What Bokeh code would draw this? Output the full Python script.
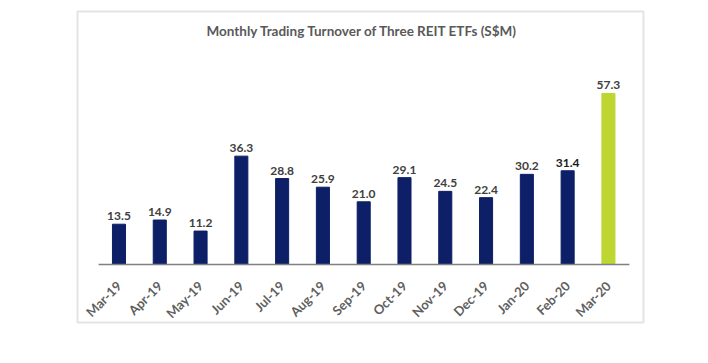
import math
from bokeh.plotting import figure
from bokeh.models import (ColumnDataSource, Range1d, LinearAxis, FixedTicker, Label)
from bokeh.core.properties import value
from bokeh.embed import file_html
from bokeh.resources import INLINE

months = ["Mar-19", "Apr-19", "May-19", "Jun-19", "Jul-19", "Aug-19", "Sep-19",
          "Oct-19", "Nov-19", "Dec-19", "Jan-20", "Feb-20", "Mar-20"]
turnover = [13.5, 14.9, 11.2, 36.3, 28.8, 25.9, 21.0, 29.1, 24.5, 22.4, 30.2, 31.4, 57.3]
bar_colors = ["#0d1f66"] * 12 + ["#bdd631"]
label_colors = ["#404040"] * 11 + ["#1a1a1a", "#404040"]
value_labels = ["%.1f" % v for v in turnover]
title_text = "Monthly Trading Turnover of Three REIT ETFs (S$M)"
source_text = "Source: SGX (data as of 19 March 2020)"

idx = list(range(len(months)))
src = ColumnDataSource(dict(x=idx, y=turnover, c=bar_colors, lc=label_colors, lbl=value_labels))

p = figure(width=700, height=355, output_backend="svg", toolbar_location=None,
           x_range=Range1d(-1.017, 12.86), y_range=Range1d(-19.43, 84.76),
           x_axis_type=None, y_axis_type=None,
           min_border_left=77, min_border_right=57, min_border_top=11, min_border_bottom=33)
p.outline_line_color = "#e4e4e4"
p.outline_line_width = 2
p.xgrid.visible = False
p.ygrid.visible = False
p.background_fill_color = "white"
p.border_fill_color = "white"

p.vbar(x="x", top="y", width=0.32, color="c", source=src)
p.text(x="x", y="y", text="lbl", source=src, text_align="center", text_baseline="bottom",
       y_offset=-4, text_font=value("Lato"), text_font_style="bold", text_font_size="12px",
       text_color="lc")
p.segment(x0=[-0.5], y0=[0], x1=[12.515], y1=[0], line_color="#808080", line_width=1.5)

ax = LinearAxis(ticker=FixedTicker(ticks=idx),
                major_label_overrides={i: m for i, m in enumerate(months)})
ax.fixed_location = 0
ax.axis_line_color = None
ax.major_tick_line_color = None
ax.minor_tick_line_color = None
ax.major_label_orientation = math.pi / 4
ax.major_label_text_font = "Lato"
ax.major_label_text_font_style = "bold"
ax.major_label_text_font_size = "13px"
ax.major_label_text_color = "#5f5f5f"
ax.major_label_standoff = 13
p.add_layout(ax, "below")

p.add_layout(Label(x=285, y=292, x_units="screen", y_units="screen", text=title_text,
                   text_align="center", text_baseline="middle", text_font="Lato",
                   text_font_style="bold", text_font_size="13.5px", text_color="#595959"))
p.add_layout(Label(x=-47, y=-25, x_units="screen", y_units="screen", text=source_text,
                   text_align="left", text_baseline="middle", text_font="Lato",
                   text_font_size="13.5px", text_color="#404040"))

open("out.html", "w").write(file_html(p, INLINE))
